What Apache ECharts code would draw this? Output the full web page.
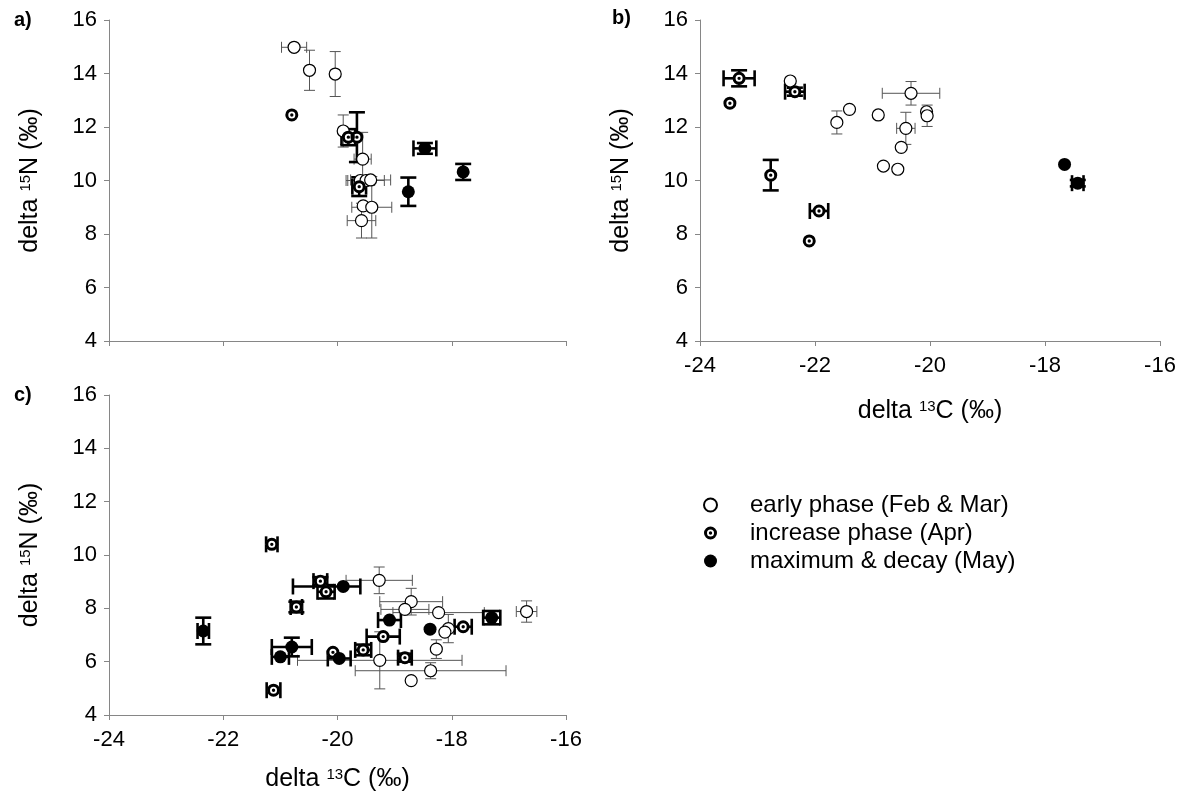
<!DOCTYPE html>
<html>
<head>
<meta charset="utf-8">
<script src="https://cdn.jsdelivr.net/npm/echarts@6/dist/echarts.min.js"></script>
<style>
html, body { margin: 0; padding: 0; background: #fff; }
#chart { width: 1184px; height: 793px; }
</style>
</head>
<body>
<div id="chart"></div>
<script>
// Each point: [delta13C, delta15N, error in 13C, error in 15N, (optional) lower error in 13C]
const phaseNames = ['early phase (Feb & Mar)', 'increase phase (Apr)', 'maximum & decay (May)'];
const xTicks = [-24, -16, 2];   // min, max, step of delta 13C
const yTicks = [4, 16, 2];      // min, max, step of delta 15N

// panel a
const aEarly = [
  [-20.76, 14.98, 0.22, 0],
  [-20.49, 14.12, 0, 0.75],
  [-20.04, 13.98, 0, 0.84],
  [-19.90, 11.85, 0, 0.60],
  [-19.56, 10.80, 0.15, 1.00],
  [-19.60, 10.00, 0.25, 0],
  [-19.50, 10.00, 0.32, 0],
  [-19.42, 10.02, 0.35, 0],
  [-19.55, 9.05, 0, 0],
  [-19.40, 9.00, 0.35, 1.15],
  [-19.58, 8.50, 0.25, 0.65]
];
const aIncrease = [
  [-20.80, 12.45, 0, 0],
  [-19.81, 11.62, 0.12, 0.30],
  [-19.66, 11.62, 0, 0.93],
  [-19.62, 9.77, 0.12, 0.35]
];
const aMaximum = [
  [-18.47, 11.20, 0.20, 0.20],
  [-18.76, 9.58, 0, 0.53],
  [-17.80, 10.32, 0, 0.30]
];

// panel b
const bEarly = [
  [-22.43, 13.72, 0, 0],
  [-21.62, 12.17, 0, 0.43],
  [-21.40, 12.66, 0, 0],
  [-20.90, 12.45, 0, 0],
  [-20.33, 13.26, 0.50, 0.44],
  [-20.42, 11.95, 0.16, 0.60],
  [-20.06, 12.57, 0, 0],
  [-20.05, 12.42, 0, 0.40],
  [-20.50, 11.24, 0, 0],
  [-20.81, 10.54, 0, 0],
  [-20.56, 10.42, 0, 0]
];
const bIncrease = [
  [-23.48, 12.89, 0, 0],
  [-23.32, 13.82, 0.27, 0.30],
  [-22.35, 13.32, 0.17, 0.15],
  [-22.77, 10.20, 0, 0.57],
  [-21.93, 8.86, 0.16, 0],
  [-22.10, 7.74, 0, 0]
];
const bMaximum = [
  [-17.66, 10.60, 0, 0],
  [-17.43, 9.90, 0.10, 0.12]
];

// panel c
const cEarly = [
  [-19.27, 9.05, 0.58, 0.50],
  [-18.71, 8.25, 0.55, 0.50],
  [-18.82, 7.96, 0.42, 0],
  [-18.23, 7.84, 0.80, 0],
  [-16.69, 7.88, 0.18, 0.40],
  [-18.06, 7.24, 0, 0.53],
  [-18.12, 7.11, 0, 0],
  [-18.27, 6.47, 0, 0.35],
  [-19.26, 6.05, 1.44, 1.07],
  [-18.37, 5.66, 1.32, 0.30],
  [-18.71, 5.29, 0, 0]
];
const cIncrease = [
  [-21.15, 10.40, 0.10, 0],
  [-20.30, 9.02, 0.12, 0.15],
  [-20.20, 8.62, 0.15, 0.25],
  [-20.72, 8.05, 0.10, 0.20],
  [-19.20, 6.94, 0.29, 0],
  [-19.55, 6.44, 0.14, 0.20],
  [-18.82, 6.15, 0.12, 0.15],
  [-17.80, 7.31, 0.15, 0],
  [-20.08, 6.35, 0, 0],
  [-21.12, 4.93, 0.12, 0]
];
const cMaximum = [
  [-22.35, 7.15, 0.10, 0.50],
  [-19.90, 8.82, 0.30, 0, 0.88],
  [-19.09, 7.56, 0.20, 0],
  [-18.38, 7.22, 0, 0],
  [-17.30, 7.65, 0.15, 0.25],
  [-20.80, 6.55, 0.35, 0.35],
  [-21.00, 6.18, 0.15, 0],
  [-19.97, 6.12, 0.20, 0]
];

const panels = [
  { early: aEarly, increase: aIncrease, maximum: aMaximum, xLabels: false, xName: false, xNameGap: 0 },
  { early: bEarly, increase: bIncrease, maximum: bMaximum, xLabels: true,  xName: true,  xNameGap: 58 },
  { early: cEarly, increase: cIncrease, maximum: cMaximum, xLabels: true,  xName: true,  xNameGap: 52 }
];

const FONT = 'Liberation Sans, Arial, sans-serif';
const AXIS_GRAY = '#868686';

// ring with a dot in the middle (increase phase marker)
const RING = 'path://M0,-10A10,10 0 1,1 0,10A10,10 0 1,1 0,-10Z' +
             'M0,-5.4A5.4,5.4 0 1,0 0,5.4A5.4,5.4 0 1,0 0,-5.4Z' +
             'M0,-2.6A2.6,2.6 0 1,1 0,2.6A2.6,2.6 0 1,1 0,-2.6Z';

function errorBars(width, cap, color) {
  return function (params, api) {
    const x = api.value(0), y = api.value(1);
    const xe = api.value(2), ye = api.value(3);
    const xl0 = api.value(4);
    const xl = isFinite(xl0) && xl0 > 0 ? xl0 : xe;
    const children = [];
    const style = { stroke: color, lineWidth: width, fill: null };
    const seg = function (x1, y1, x2, y2) {
      children.push({ type: 'line', shape: { x1: x1, y1: y1, x2: x2, y2: y2 }, style: style });
    };
    if (xe > 0 || xl > 0) {
      const l = api.coord([x - xl, y]), r = api.coord([x + xe, y]);
      seg(l[0], l[1], r[0], r[1]);
      seg(l[0], l[1] - cap, l[0], l[1] + cap);
      seg(r[0], r[1] - cap, r[0], r[1] + cap);
    }
    if (ye > 0) {
      const t = api.coord([x, y + ye]), b = api.coord([x, y - ye]);
      seg(t[0], t[1], b[0], b[1]);
      seg(t[0] - cap, t[1], t[0] + cap, t[1]);
      seg(b[0] - cap, b[1], b[0] + cap, b[1]);
    }
    return { type: 'group', children: children };
  };
}

const grids = [
  { left: 109, top: 20, width: 457, height: 321 },
  { left: 700, top: 20, width: 460, height: 321 },
  { left: 109, top: 395, width: 457, height: 321 }
];

const nameRich = {
  t: { fontSize: 25, fontFamily: FONT, color: '#000' },
  s: { fontSize: 15, fontFamily: FONT, color: '#000', verticalAlign: 'top' }
};

const dims = ['x', 'y', 'xe', 'ye', 'xl'];
const xAxes = [], yAxes = [], series = [];
panels.forEach(function (p, i) {
  xAxes.push({
    type: 'value', gridIndex: i, min: xTicks[0], max: xTicks[1], interval: xTicks[2],
    axisLine: { onZero: false, lineStyle: { color: AXIS_GRAY, width: 1 } },
    axisTick: { length: 5, lineStyle: { color: AXIS_GRAY } },
    axisLabel: { show: p.xLabels, fontSize: 22, fontFamily: FONT, color: '#000', margin: 14 },
    splitLine: { show: false },
    name: p.xName ? '{t|delta }{s|13}{t|C (‰)}' : '',
    nameLocation: 'middle', nameGap: p.xNameGap,
    nameTextStyle: { rich: nameRich }
  });
  yAxes.push({
    type: 'value', gridIndex: i, min: yTicks[0], max: yTicks[1], interval: yTicks[2],
    axisLine: { onZero: false, lineStyle: { color: AXIS_GRAY, width: 1 } },
    axisTick: { length: 5, lineStyle: { color: AXIS_GRAY } },
    axisLabel: { fontSize: 22, fontFamily: FONT, color: '#000', margin: 12 },
    splitLine: { show: false },
    name: '{t|delta }{s|15}{t|N (‰)}',
    nameLocation: 'middle', nameGap: 66, nameRotate: 90,
    nameTextStyle: { rich: nameRich }
  });

  const ax = { xAxisIndex: i, yAxisIndex: i };
  series.push(Object.assign({
    type: 'custom', coordinateSystem: 'cartesian2d', z: 1, silent: true, dimensions: dims,
    renderItem: errorBars(1, 5.5, '#555'), data: p.early, encode: { x: 0, y: 1 }
  }, ax));
  series.push(Object.assign({
    type: 'custom', coordinateSystem: 'cartesian2d', z: 2, silent: true, dimensions: dims,
    renderItem: errorBars(2.6, 8, '#000'), data: p.increase.concat(p.maximum), encode: { x: 0, y: 1 }
  }, ax));
  series.push(Object.assign({
    type: 'scatter', name: phaseNames[0], z: 3, symbol: 'circle', symbolSize: 12,
    itemStyle: { color: '#fff', borderColor: '#000', borderWidth: 1.2, opacity: 1 },
    data: p.early, encode: { x: 0, y: 1 }
  }, ax));
  series.push(Object.assign({
    type: 'scatter', z: 3, symbol: 'circle', symbolSize: 12, silent: true,
    itemStyle: { color: '#fff', opacity: 1 },
    data: p.increase, encode: { x: 0, y: 1 }
  }, ax));
  series.push(Object.assign({
    type: 'scatter', name: phaseNames[1], z: 4, symbol: RING, symbolSize: 13,
    itemStyle: { color: '#000', opacity: 1 },
    data: p.increase, encode: { x: 0, y: 1 }
  }, ax));
  series.push(Object.assign({
    type: 'scatter', name: phaseNames[2], z: 4, symbol: 'circle', symbolSize: 13,
    itemStyle: { color: '#000', opacity: 1 },
    data: p.maximum, encode: { x: 0, y: 1 }
  }, ax));
});

const panelLetter = function (text, left, top) {
  return { type: 'text', left: left, top: top,
    style: { text: text, font: 'bold 20px ' + FONT, fill: '#000' } };
};

const chart = echarts.init(document.getElementById('chart'), null, { renderer: 'canvas' });
chart.setOption({
  animation: false,
  backgroundColor: '#fff',
  grid: grids,
  xAxis: xAxes,
  yAxis: yAxes,
  series: series,
  legend: {
    data: phaseNames,
    orient: 'vertical', left: 698, top: 488, itemGap: 4,
    itemWidth: 13, itemHeight: 13, selectedMode: false,
    textStyle: { fontSize: 24, fontFamily: FONT, color: '#000', padding: [0, 0, 0, 28] }
  },
  graphic: [
    panelLetter('a)', 14, 10),
    panelLetter('b)', 612, 8),
    panelLetter('c)', 14, 385)
  ]
});
</script>
</body>
</html>
